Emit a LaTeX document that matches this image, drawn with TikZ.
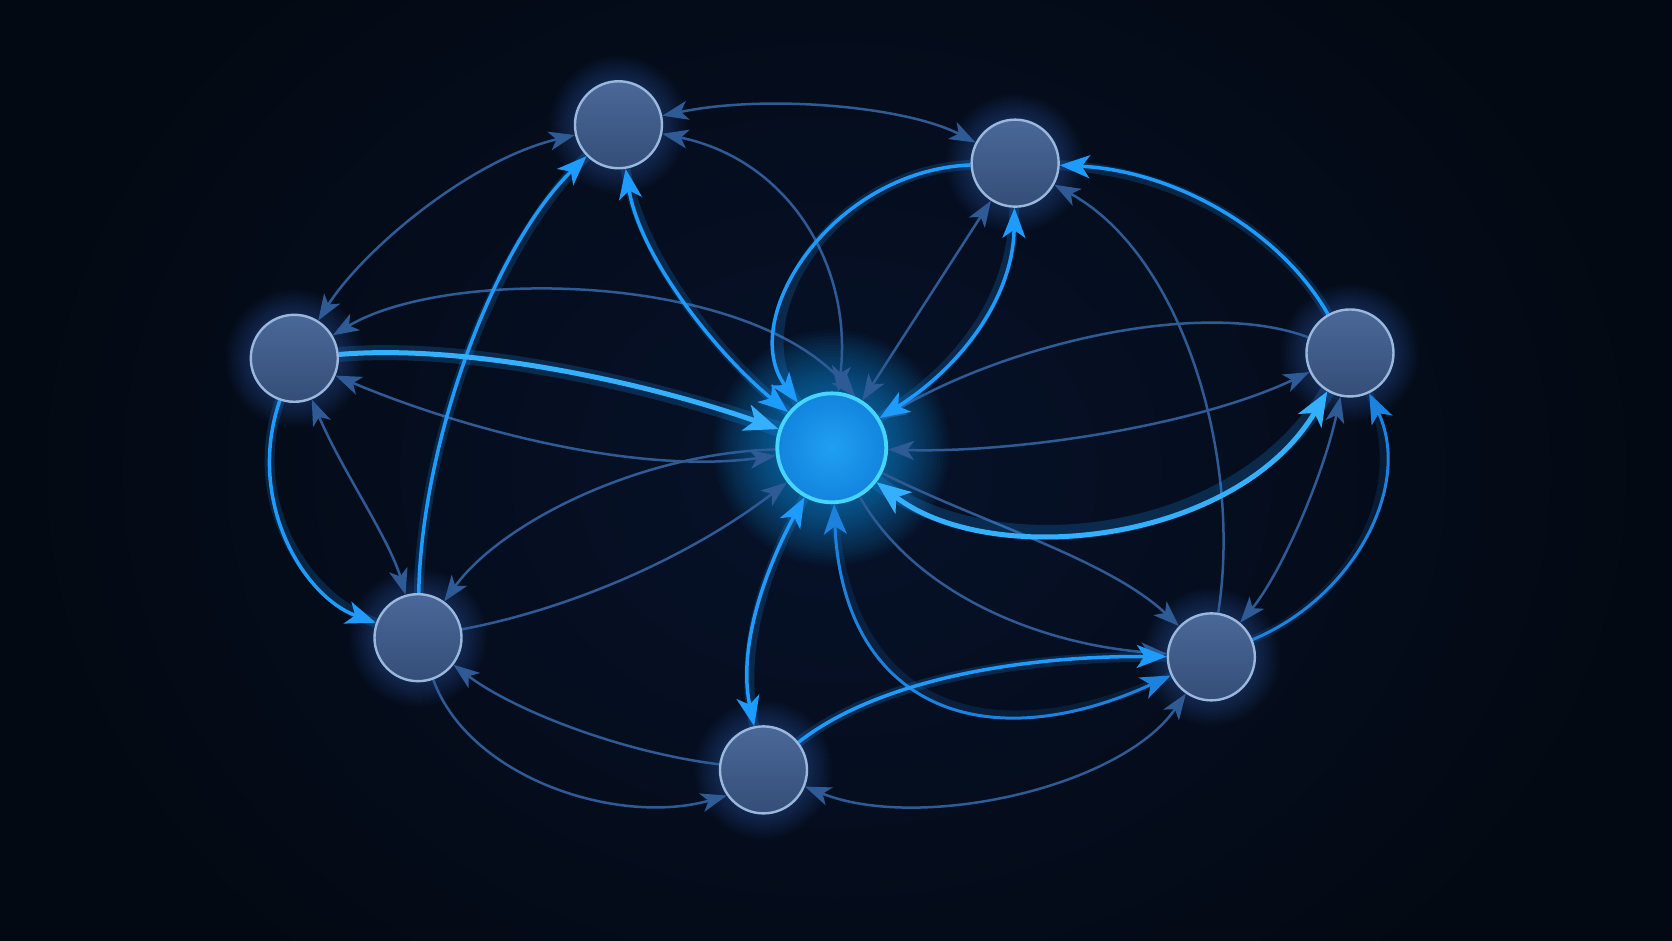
\documentclass[tikz,border=0pt]{standalone}
\usetikzlibrary{arrows.meta}
\definecolor{bgc}{HTML}{030912}
\definecolor{bgin}{HTML}{07122A}
\definecolor{dimc}{HTML}{2E5A96}
\definecolor{brc}{HTML}{1E9BFF}
\definecolor{brcore}{HTML}{35B0FF}
\definecolor{medc}{HTML}{1C82DE}
\definecolor{nodetop}{HTML}{4A6898}
\definecolor{nodebot}{HTML}{344E78}
\definecolor{nodeedge}{HTML}{9AB8DE}
\definecolor{nodeglow}{HTML}{3C78D0}
\definecolor{ctrin}{HTML}{1FA0F2}
\definecolor{ctrout}{HTML}{1384DE}
\definecolor{ctredge}{HTML}{45D6FF}
\definecolor{ctrglow}{HTML}{1AA8FF}
\pgfdeclarelayer{bglayer}
\pgfdeclarelayer{edgelayer}
\pgfsetlayers{bglayer,edgelayer,main}
\tikzset{
  dimline/.style={draw=dimc, line width=2.5pt},
  medline/.style={draw=medc, line width=3pt, preaction={draw=medc, line width=8pt, opacity=0.15, arrows=-}},
  brline/.style={draw=brc, line width=3.5pt, preaction={draw=brc, line width=10pt, opacity=0.18, arrows=-}},
  thickline/.style={draw=brcore, line width=5pt, preaction={draw=brc, line width=15pt, opacity=0.2, arrows=-}},
  da/.style={-{Stealth[length=26pt,width=19pt,inset=7pt]}},
  dab/.style={{Stealth[length=26pt,width=19pt,inset=7pt]}-{Stealth[length=26pt,width=19pt,inset=7pt]}},
  ba/.style={-{Stealth[length=30pt,width=23pt,inset=8pt]}},
  bab/.style={{Stealth[length=30pt,width=23pt,inset=8pt]}-{Stealth[length=30pt,width=23pt,inset=8pt]}},
  ta/.style={-{Stealth[length=34pt,width=27pt,inset=9pt]}},
  tab/.style={{Stealth[length=34pt,width=27pt,inset=9pt]}-{Stealth[length=34pt,width=27pt,inset=9pt]}},
  gnode/.style={circle, minimum size=87pt, inner sep=0pt, draw=nodeedge, line width=2.4pt, top color=nodetop, bottom color=nodebot},
  cnode/.style={circle, minimum size=109pt, inner sep=0pt, draw=ctredge, line width=3.8pt, inner color=ctrin, outer color=ctrout},
}
\begin{document}
\begin{tikzpicture}[x=1.0663pt, y=-1.0663pt]
\useasboundingbox (0,0) rectangle (1568,882);
% nodes
\node[cnode] (C) at (780,420) {};
\node[gnode] (A) at (580,117) {};
\node[gnode] (B) at (952,153) {};
\node[gnode] (R) at (1266,331) {};
\node[gnode] (BR) at (1136,616) {};
\node[gnode] (Bot) at (716,722) {};
\node[gnode] (BL) at (392,598) {};
\node[gnode] (L) at (276,336) {};

\begin{pgfonlayer}{bglayer}
  \fill[bgc] (0,0) rectangle (1568,882);
  \shade[inner color=bgin, outer color=bgc] (0,-200) rectangle (1568,1082);
  \foreach \n in {A,B,R,BR,Bot,BL,L}{
    \foreach \r in {45,47,...,69}{
      \fill[nodeglow, opacity=0.028] (\n) circle[radius=\r pt];
    }
  }
  \foreach \r in {58,61,...,118}{
    \fill[ctrglow, opacity=0.032] (C) circle[radius=\r pt];
  }
\end{pgfonlayer}

\begin{pgfonlayer}{edgelayer}
  % dim connectors
  \draw[dimline, dab] (A) .. controls (720,88) and (850,100) .. (B);
  \draw[dimline, dab] (A) .. controls (440,150) and (340,235) .. (L);
  \draw[dimline, dab] (A) .. controls (740,150) and (800,250) .. (C);
  \draw[dimline, dab] (L) .. controls (420,250) and (700,255) .. (C.65);
  \draw[dimline, dab] (C) .. controls (600,445) and (440,405) .. (L);
  \draw[dimline, dab] (L) .. controls (320,440) and (365,505) .. (BL);
  \draw[dimline, da] (C) .. controls (600,425) and (470,490) .. (BL);
  \draw[dimline, da] (BL) .. controls (540,570) and (650,520) .. (C);
  \draw[dimline, da] (Bot) .. controls (580,705) and (480,665) .. (BL);
  \draw[dimline, da] (BL) .. controls (440,730) and (580,775) .. (Bot.215);
  \draw[dimline, dab] (Bot) .. controls (860,780) and (1050,740) .. (BR);
  \draw[dimline, da] (C) .. controls (920,490) and (1040,525) .. (BR);
  \draw[dimline, da] (C) .. controls (860,560) and (980,605) .. (BR);
  \draw[dimline, da] (R) .. controls (1130,280) and (950,320) .. (C);
  \draw[dimline, dab] (C) .. controls (950,425) and (1120,400) .. (R);
  \draw[dimline, dab] (B) -- (C);
  \draw[dimline, da] (BR) .. controls (1165,430) and (1110,240) .. (B);
  \draw[dimline, dab] (R) .. controls (1240,450) and (1200,540) .. (BR);
  % bright connectors
  \draw[medline, ba] (BR) .. controls (1270,560) and (1325,455) .. (R);
  \draw[medline, bab] (C) .. controls (790,660) and (920,715) .. (BR);
  \draw[brline, bab] (A) .. controls (600,240) and (670,330) .. (C);
  \draw[brline, bab] (B) .. controls (950,280) and (900,345) .. (C);
  \draw[brline, ba] (B) .. controls (780,160) and (690,300) .. (C);
  \draw[brline, ba] (R) .. controls (1200,215) and (1100,160) .. (B);
  \draw[brline, bab] (Bot) .. controls (690,600) and (725,520) .. (C);
  \draw[brline, ba] (Bot) .. controls (820,640) and (950,615) .. (BR);
  \draw[brline, ba] (BL) .. controls (395,420) and (460,235) .. (A);
  \draw[brline, ba] (L) .. controls (230,470) and (285,560) .. (BL);
  \draw[thickline, ta] (L) .. controls (440,322) and (610,360) .. (C);
  \draw[thickline, tab] (C) .. controls (930,535) and (1160,510) .. (R);
\end{pgfonlayer}
\end{tikzpicture}
\end{document}
